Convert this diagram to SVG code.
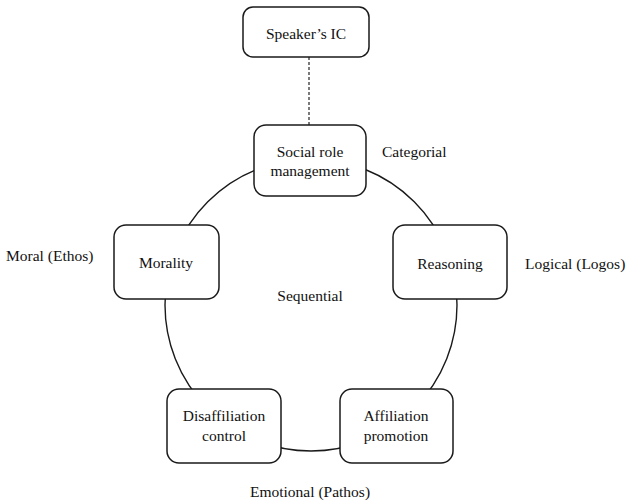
<svg xmlns="http://www.w3.org/2000/svg" width="628" height="502" viewBox="0 0 628 502">
<style>
.box{fill:#fff;stroke:#1a1a1a;stroke-width:1.5}
text{font-family:"Liberation Serif","Times New Roman",serif;font-size:15.5px;fill:#111}
.c{text-anchor:middle}
</style>
<rect width="628" height="502" fill="#fff"/>
<g id="connectors">
<circle cx="311" cy="305" r="146" fill="none" stroke="#1a1a1a" stroke-width="1.4"/>
<line x1="309" y1="57" x2="309" y2="125" stroke="#333" stroke-width="1.3" stroke-dasharray="3,2"/>
</g>
<g id="speaker"><rect class="box" x="243" y="7" width="126" height="50" rx="10"/><text class="c" x="306" y="39">Speaker’s IC</text></g>
<g id="social"><rect class="box" x="254" y="125" width="112" height="71" rx="12"/><text class="c" x="310" y="157">Social role</text><text class="c" x="310" y="176">management</text></g>
<g id="morality"><rect class="box" x="114" y="225" width="105" height="74" rx="12"/><text class="c" x="166" y="268">Morality</text></g>
<g id="reasoning"><rect class="box" x="393" y="225" width="114" height="74" rx="12"/><text class="c" x="450" y="269">Reasoning</text></g>
<g id="disaffiliation"><rect class="box" x="167" y="389" width="114" height="74" rx="12"/><text class="c" x="224" y="421">Disaffiliation</text><text class="c" x="224" y="441">control</text></g>
<g id="affiliation"><rect class="box" x="340" y="389" width="113" height="74" rx="12"/><text class="c" x="396" y="421">Affiliation</text><text class="c" x="396" y="441">promotion</text></g>
<g id="labels">
<text x="382" y="157">Categorial</text>
<text x="6" y="261">Moral (Ethos)</text>
<text x="525" y="269">Logical (Logos)</text>
<text class="c" x="310" y="301">Sequential</text>
<text class="c" x="310" y="497">Emotional (Pathos)</text>
</g>
</svg>
